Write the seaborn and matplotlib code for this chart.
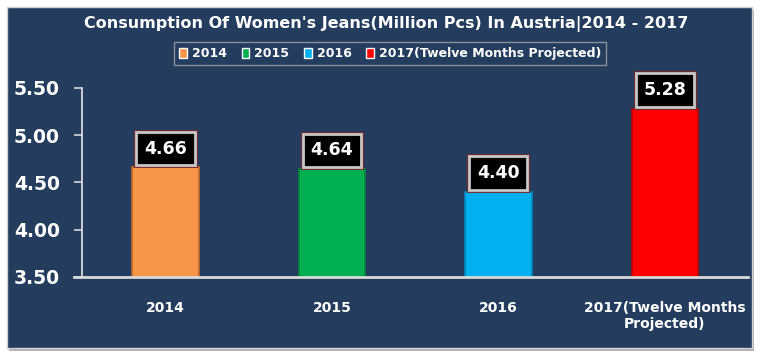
import seaborn as sns
import pandas as pd
import matplotlib
matplotlib.use("Agg")
from matplotlib import pyplot as plt
from matplotlib.patches import Rectangle

categories = ["2014", "2015", "2016", "2017(Twelve Months Projected)"]
tick_labels = ["2014", "2015", "2016", "2017(Twelve Months\nProjected)"]
values = [4.66, 4.64, 4.40, 5.28]
colors = ["#F79646", "#00B050", "#00B0F0", "#FF0000"]
edges = ["#C0692A", "#00843C", "#0088BB", "#C00000"]
y_ticks = [3.50, 4.00, 4.50, 5.00, 5.50]

navy = "#243C5E"

sns.set_style("white")
plt.rcParams["font.family"] = ["DejaVu Sans"]

df = pd.DataFrame({"year": categories, "consumption": values})

fig = plt.figure(figsize=(7.68, 3.62), dpi=100, facecolor="white")
# shadow + navy panel, behind the axes
fig.patches.append(Rectangle((0.012, 0.030), 0.970, 0.942, transform=fig.transFigure,
                             facecolor="#B0B0B0", edgecolor="none", zorder=-3))
fig.patches.append(Rectangle((0.009, 0.039), 0.970, 0.942, transform=fig.transFigure,
                             facecolor=navy, edgecolor="#D0D0D0", linewidth=1, zorder=-2))

ax = fig.add_axes([0.107, 0.235, 0.867, 0.522])
ax.set_facecolor("none")

sns.barplot(data=df, x="year", y="consumption", hue="year", palette=colors,
            saturation=1, width=0.4, dodge=False, legend=True, ax=ax)

for bar, ec in zip(ax.patches, edges):
    bar.set_edgecolor(ec)
    bar.set_linewidth(1.2)

ax.set_ylim(3.5, 5.5)
ax.set_yticks(y_ticks)
ax.set_yticklabels([f"{t:.2f}" for t in y_ticks], color="white", fontweight="bold", fontsize=13.5)
ax.set_xticks(range(len(categories)))
ax.set_xticklabels(tick_labels, color="white", fontweight="bold", fontsize=10)
ax.tick_params(axis="y", left=True, length=6, width=1.2, color="#D9D9D9", pad=10)
ax.tick_params(axis="x", bottom=False, pad=14)
ax.set_xlabel("")
ax.set_ylabel("")

for s in ["top", "right"]:
    ax.spines[s].set_visible(False)
ax.spines["left"].set_color("#D9D9D9")
ax.spines["bottom"].set_color("#D9D9D9")
ax.spines["left"].set_linewidth(1.3)
ax.spines["bottom"].set_linewidth(2)
ax.spines["bottom"].set_bounds(-0.55, 3.5)

# value labels: black box with light grey frame and thin dark-red outline
for i, v in enumerate(values):
    for lw, ec in [(3.5, "#7A2A2A"), (2, "#C8C8C8")]:
        ax.annotate(f"{v:.2f}", xy=(i, v), xytext=(0, 7), textcoords="offset points",
                    ha="center", va="bottom", color="white", fontweight="bold", fontsize=12.5,
                    annotation_clip=False,
                    bbox=dict(boxstyle="square,pad=0.45", facecolor="black",
                              edgecolor=ec, linewidth=lw))

leg = ax.legend(loc="center", bbox_to_anchor=(0.508, 0.852), bbox_transform=fig.transFigure,
                ncol=4, frameon=True, fontsize=9, handlelength=0.6, handleheight=0.8,
                handletextpad=0.4, columnspacing=1.2, borderpad=0.4, fancybox=False)
leg.get_frame().set_facecolor(navy)
leg.get_frame().set_edgecolor("#A6A6A6")
for t in leg.get_texts():
    t.set_color("white")
    t.set_fontweight("bold")

fig.text(0.503, 0.935, "Consumption Of Women's Jeans(Million Pcs) In Austria|2014 - 2017",
         ha="center", va="center", color="white", fontweight="bold", fontsize=11.5)

fig.savefig("out.png", dpi=100, facecolor="white")
